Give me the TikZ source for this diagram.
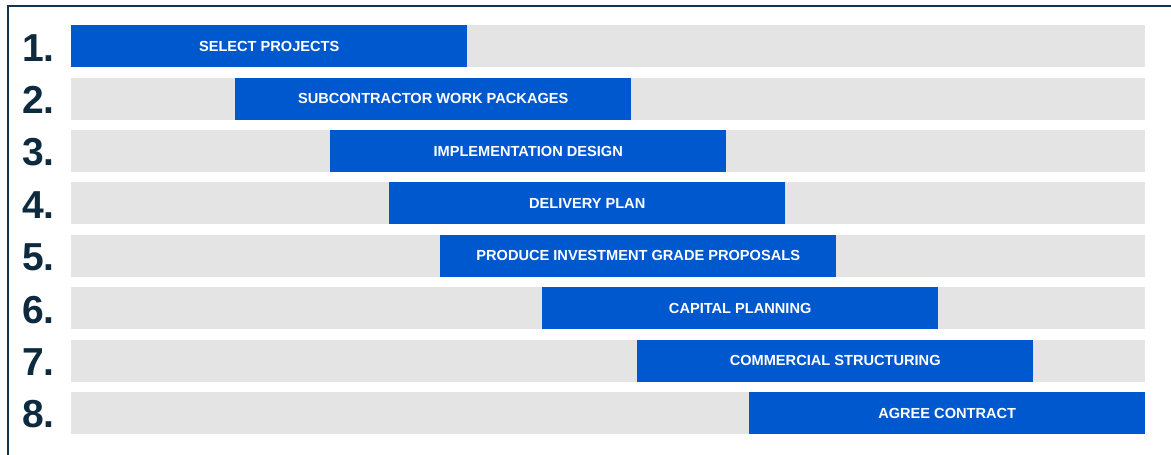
\documentclass[tikz,border=0pt]{standalone}
\usepackage{fontspec}
\setmainfont{Liberation Sans}
\definecolor{barblue}{HTML}{0058CF}
\definecolor{bargray}{HTML}{E4E4E4}
\definecolor{numnavy}{HTML}{0E2A3E}
\definecolor{framenavy}{HTML}{14364D}
\begin{document}
\begin{tikzpicture}[x=1pt,y=-1pt,
  graybar/.style={fill=bargray,draw=none,inner sep=0pt,minimum height=42pt,minimum width=1074pt,anchor=north west},
  bluebar/.style={fill=barblue,draw=none,inner sep=0pt,minimum height=42pt,minimum width=396pt,anchor=north west,
    text=white,font=\fontsize{14.6}{16}\selectfont\bfseries},
  numlabel/.style={anchor=base west,inner sep=0pt,text=numnavy,font=\fontsize{39}{40}\selectfont\bfseries}]
\useasboundingbox (0,0) rectangle (1171,455);
\fill[white] (0,0) rectangle (1171,455);
\coordinate (ftr) at (1171,6);
\coordinate (ftl) at (8,6);
\coordinate (fbl) at (8,455);
\draw[framenavy,line width=2.5pt] (ftr) -- (ftl) -- (fbl);
\foreach \i/\xs/\lab in {1/71/SELECT PROJECTS,2/235/SUBCONTRACTOR WORK PACKAGES,3/330/IMPLEMENTATION DESIGN,4/389/DELIVERY PLAN,5/440/PRODUCE INVESTMENT GRADE PROPOSALS,6/542/CAPITAL PLANNING,7/637/COMMERCIAL STRUCTURING,8/749/AGREE CONTRACT}{
  \pgfmathsetmacro{\yt}{25+(\i-1)*52.4}
  \node[graybar] (g\i) at (71,\yt) {};
  \node[bluebar] (b\i) at (\xs,\yt) {\lab};
  \node[numlabel] (n\i) at (22,\yt+36) {\i.};
}
\end{tikzpicture}
\end{document}
